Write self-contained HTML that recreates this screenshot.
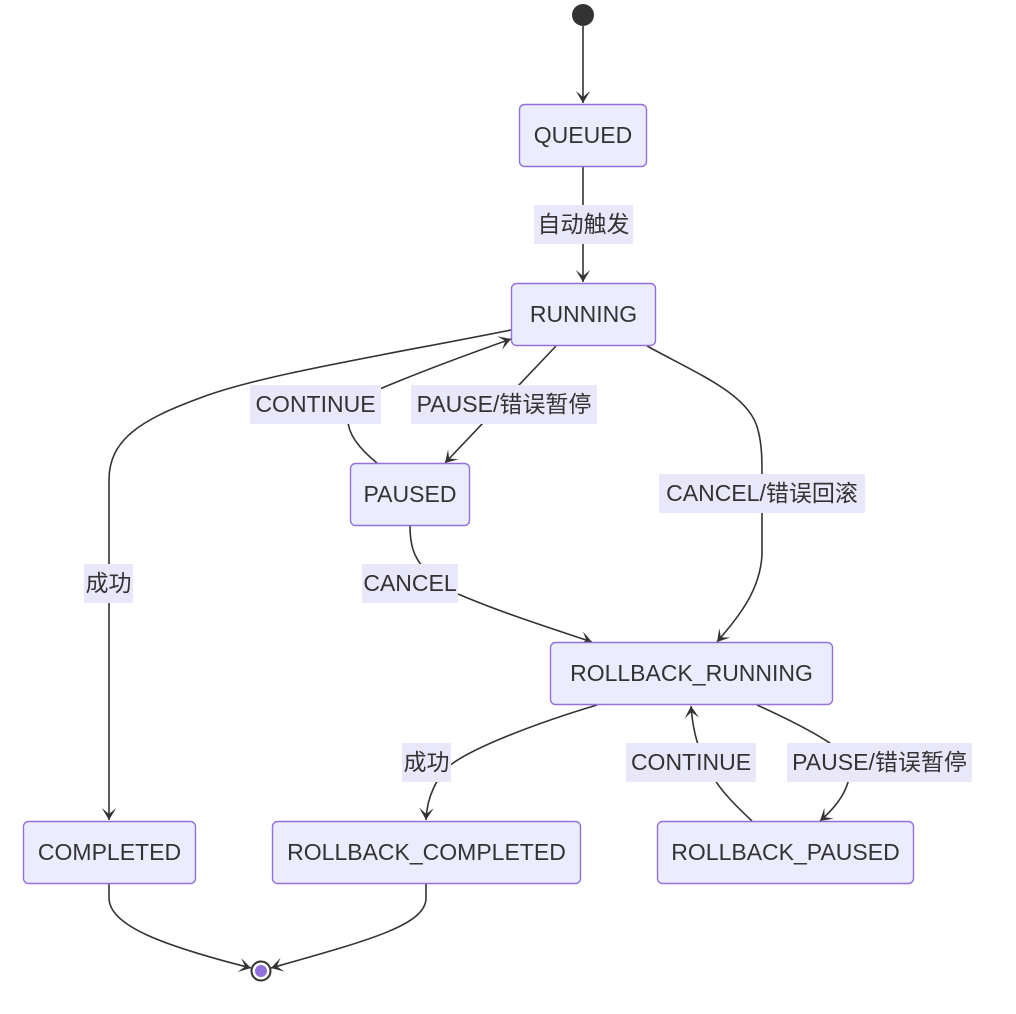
<!DOCTYPE html>
<html>
<head>
<meta charset="utf-8">
<style>
  html, body { margin:0; padding:0; background:#ffffff; }
  svg { display:block; }
  .node { fill:#ECECFF; stroke:#9370DB; stroke-width:1.4; }
  .edge { fill:none; stroke:#333333; stroke-width:1.6; }
  .lbl { fill:#E8E8FA; }
  text { font-family:"Liberation Sans","Noto Sans CJK SC",sans-serif; font-size:23px; fill:#333333; text-anchor:middle; }
</style>
</head>
<body>
<svg width="1016" height="1014" viewBox="0 0 1016 1014" xmlns="http://www.w3.org/2000/svg">
  <defs>
    <marker id="a" viewBox="0 0 20 14" refX="19" refY="7" markerWidth="24" markerHeight="16.8" markerUnits="userSpaceOnUse" orient="auto">
      <path d="M19,7 L9,13 L14,7 L9,1 Z" fill="#333333"/>
    </marker>
  </defs>

  <!-- edges -->
  <path class="edge" d="M583,26 L583,103" marker-end="url(#a)"/>
  <path class="edge" d="M583,166 L583,282" marker-end="url(#a)"/>
  <path class="edge" d="M511,330 C380,356 260,375 200,398 C140,420 109,440 109,480 L109,820" marker-end="url(#a)"/>
  <path class="edge" d="M377,463 C356,446 348,432 348,420 C348,405 360,395 382,388 C430,368 480,350 511,339" marker-end="url(#a)"/>
  <path class="edge" d="M556,346 L445,463" marker-end="url(#a)"/>
  <path class="edge" d="M647,346 C700,375 750,395 758,430 C762,445 762,460 762,475 L762,555 C760,590 740,615 717,642" marker-end="url(#a)"/>
  <path class="edge" d="M410,526 C410,545 414,556 422,566 L440,585 C450,590 455,592 458,594 C500,612 550,628 592,642" marker-end="url(#a)"/>
  <path class="edge" d="M597,705 C540,722 470,748 448,767 C438,777 427,795 426,820" marker-end="url(#a)"/>
  <path class="edge" d="M752,821 C735,805 720,790 712,775 C700,755 693,735 691,706" marker-end="url(#a)"/>
  <path class="edge" d="M757,705 C790,720 830,740 845,755 C855,770 850,795 820,821" marker-end="url(#a)"/>
  <path class="edge" d="M109,884 L109,898 C109,925 160,945 251,968" marker-end="url(#a)"/>
  <path class="edge" d="M426,884 L426,898 C426,925 370,940 271,968" marker-end="url(#a)"/>

  <!-- edge labels -->
  <rect class="lbl" x="534" y="205" width="99" height="39"/>
  <text x="583.5" y="232">自动触发</text>

  <rect class="lbl" x="250" y="385" width="131" height="39"/>
  <text x="315.5" y="412">CONTINUE</text>

  <rect class="lbl" x="411" y="385" width="186" height="39"/>
  <text x="504" y="412">PAUSE/错误暂停</text>

  <rect class="lbl" x="659" y="474" width="206" height="39"/>
  <text x="762" y="501">CANCEL/错误回滚</text>

  <rect class="lbl" x="84" y="564" width="49" height="39"/>
  <text x="108.5" y="591">成功</text>

  <rect class="lbl" x="362" y="564" width="96" height="39"/>
  <text x="410" y="591">CANCEL</text>

  <rect class="lbl" x="402" y="743" width="49" height="39"/>
  <text x="426.5" y="770">成功</text>

  <rect class="lbl" x="626" y="743" width="130" height="39"/>
  <text x="691" y="770">CONTINUE</text>

  <rect class="lbl" x="787" y="743" width="185" height="39"/>
  <text x="879.5" y="770">PAUSE/错误暂停</text>

  <!-- start / end -->
  <circle cx="583" cy="15" r="11" fill="#333333"/>
  <circle cx="261" cy="971" r="9.5" fill="#ffffff" stroke="#333333" stroke-width="2"/>
  <circle cx="261" cy="971" r="6" fill="#9370DB"/>

  <!-- nodes -->
  <rect class="node" x="519.5" y="104.5" width="127" height="62" rx="5"/>
  <text x="583" y="143">QUEUED</text>

  <rect class="node" x="511.5" y="283.5" width="144" height="62" rx="5"/>
  <text x="583.5" y="322">RUNNING</text>

  <rect class="node" x="350.5" y="463.5" width="119" height="62" rx="5"/>
  <text x="410" y="502">PAUSED</text>

  <rect class="node" x="550.5" y="642.5" width="282" height="62" rx="5"/>
  <text x="691.5" y="681">ROLLBACK_RUNNING</text>

  <rect class="node" x="23.5" y="821.5" width="172" height="62" rx="5"/>
  <text x="109.5" y="860">COMPLETED</text>

  <rect class="node" x="272.5" y="821.5" width="308" height="62" rx="5"/>
  <text x="426.5" y="860">ROLLBACK_COMPLETED</text>

  <rect class="node" x="657.5" y="821.5" width="256" height="62" rx="5"/>
  <text x="785.5" y="860">ROLLBACK_PAUSED</text>
</svg>
</body>
</html>
